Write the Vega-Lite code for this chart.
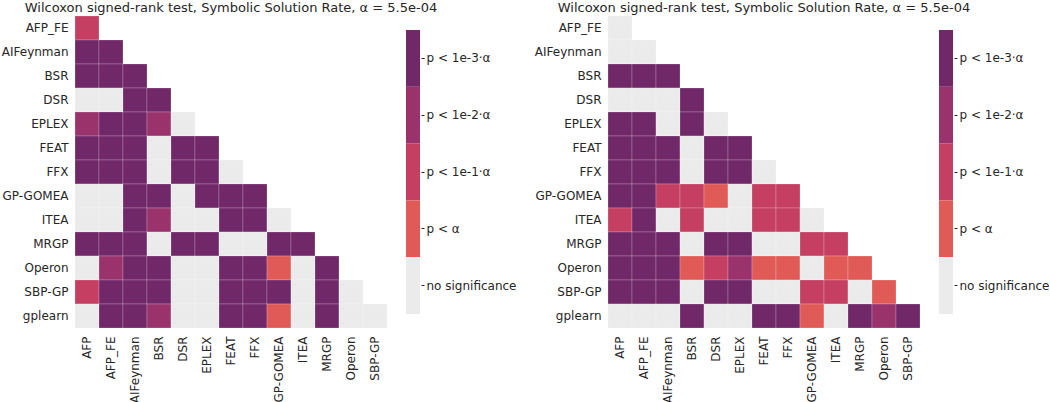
{
  "$schema": "https://vega.github.io/schema/vega-lite/v6.json",
  "padding": {"left": 1, "top": 1, "right": 0, "bottom": 0},
  "background": "#ffffff",
  "config": {
    "font": "DejaVu Sans",
    "view": {"stroke": null},
    "axis": {"labelFont": "DejaVu Sans", "labelFontSize": 12, "labelColor": "#262626", "grid": false}
  },
  "datasets": {
    "legend": [
      {"code": "3", "label": "p < 1e-3·α"},
      {"code": "2", "label": "p < 1e-2·α"},
      {"code": "1", "label": "p < 1e-1·α"},
      {"code": "0", "label": "p < α"},
      {"code": "n", "label": "no significance"}
    ],
    "left": [
      {"r": "AFP_FE", "c": "AFP", "s": "1"},
      {"r": "AIFeynman", "c": "AFP", "s": "3"},
      {"r": "AIFeynman", "c": "AFP_FE", "s": "3"},
      {"r": "BSR", "c": "AFP", "s": "3"},
      {"r": "BSR", "c": "AFP_FE", "s": "3"},
      {"r": "BSR", "c": "AIFeynman", "s": "3"},
      {"r": "DSR", "c": "AFP", "s": "n"},
      {"r": "DSR", "c": "AFP_FE", "s": "n"},
      {"r": "DSR", "c": "AIFeynman", "s": "3"},
      {"r": "DSR", "c": "BSR", "s": "3"},
      {"r": "EPLEX", "c": "AFP", "s": "2"},
      {"r": "EPLEX", "c": "AFP_FE", "s": "3"},
      {"r": "EPLEX", "c": "AIFeynman", "s": "3"},
      {"r": "EPLEX", "c": "BSR", "s": "2"},
      {"r": "EPLEX", "c": "DSR", "s": "n"},
      {"r": "FEAT", "c": "AFP", "s": "3"},
      {"r": "FEAT", "c": "AFP_FE", "s": "3"},
      {"r": "FEAT", "c": "AIFeynman", "s": "3"},
      {"r": "FEAT", "c": "BSR", "s": "n"},
      {"r": "FEAT", "c": "DSR", "s": "3"},
      {"r": "FEAT", "c": "EPLEX", "s": "3"},
      {"r": "FFX", "c": "AFP", "s": "3"},
      {"r": "FFX", "c": "AFP_FE", "s": "3"},
      {"r": "FFX", "c": "AIFeynman", "s": "3"},
      {"r": "FFX", "c": "BSR", "s": "n"},
      {"r": "FFX", "c": "DSR", "s": "3"},
      {"r": "FFX", "c": "EPLEX", "s": "3"},
      {"r": "FFX", "c": "FEAT", "s": "n"},
      {"r": "GP-GOMEA", "c": "AFP", "s": "n"},
      {"r": "GP-GOMEA", "c": "AFP_FE", "s": "n"},
      {"r": "GP-GOMEA", "c": "AIFeynman", "s": "3"},
      {"r": "GP-GOMEA", "c": "BSR", "s": "3"},
      {"r": "GP-GOMEA", "c": "DSR", "s": "n"},
      {"r": "GP-GOMEA", "c": "EPLEX", "s": "3"},
      {"r": "GP-GOMEA", "c": "FEAT", "s": "3"},
      {"r": "GP-GOMEA", "c": "FFX", "s": "3"},
      {"r": "ITEA", "c": "AFP", "s": "n"},
      {"r": "ITEA", "c": "AFP_FE", "s": "n"},
      {"r": "ITEA", "c": "AIFeynman", "s": "3"},
      {"r": "ITEA", "c": "BSR", "s": "2"},
      {"r": "ITEA", "c": "DSR", "s": "n"},
      {"r": "ITEA", "c": "EPLEX", "s": "n"},
      {"r": "ITEA", "c": "FEAT", "s": "3"},
      {"r": "ITEA", "c": "FFX", "s": "3"},
      {"r": "ITEA", "c": "GP-GOMEA", "s": "n"},
      {"r": "MRGP", "c": "AFP", "s": "3"},
      {"r": "MRGP", "c": "AFP_FE", "s": "3"},
      {"r": "MRGP", "c": "AIFeynman", "s": "3"},
      {"r": "MRGP", "c": "BSR", "s": "n"},
      {"r": "MRGP", "c": "DSR", "s": "3"},
      {"r": "MRGP", "c": "EPLEX", "s": "3"},
      {"r": "MRGP", "c": "FEAT", "s": "n"},
      {"r": "MRGP", "c": "FFX", "s": "n"},
      {"r": "MRGP", "c": "GP-GOMEA", "s": "3"},
      {"r": "MRGP", "c": "ITEA", "s": "3"},
      {"r": "Operon", "c": "AFP", "s": "n"},
      {"r": "Operon", "c": "AFP_FE", "s": "2"},
      {"r": "Operon", "c": "AIFeynman", "s": "3"},
      {"r": "Operon", "c": "BSR", "s": "3"},
      {"r": "Operon", "c": "DSR", "s": "n"},
      {"r": "Operon", "c": "EPLEX", "s": "n"},
      {"r": "Operon", "c": "FEAT", "s": "3"},
      {"r": "Operon", "c": "FFX", "s": "3"},
      {"r": "Operon", "c": "GP-GOMEA", "s": "0"},
      {"r": "Operon", "c": "ITEA", "s": "n"},
      {"r": "Operon", "c": "MRGP", "s": "3"},
      {"r": "SBP-GP", "c": "AFP", "s": "1"},
      {"r": "SBP-GP", "c": "AFP_FE", "s": "3"},
      {"r": "SBP-GP", "c": "AIFeynman", "s": "3"},
      {"r": "SBP-GP", "c": "BSR", "s": "3"},
      {"r": "SBP-GP", "c": "DSR", "s": "n"},
      {"r": "SBP-GP", "c": "EPLEX", "s": "n"},
      {"r": "SBP-GP", "c": "FEAT", "s": "3"},
      {"r": "SBP-GP", "c": "FFX", "s": "3"},
      {"r": "SBP-GP", "c": "GP-GOMEA", "s": "3"},
      {"r": "SBP-GP", "c": "ITEA", "s": "n"},
      {"r": "SBP-GP", "c": "MRGP", "s": "3"},
      {"r": "SBP-GP", "c": "Operon", "s": "n"},
      {"r": "gplearn", "c": "AFP", "s": "n"},
      {"r": "gplearn", "c": "AFP_FE", "s": "3"},
      {"r": "gplearn", "c": "AIFeynman", "s": "3"},
      {"r": "gplearn", "c": "BSR", "s": "2"},
      {"r": "gplearn", "c": "DSR", "s": "n"},
      {"r": "gplearn", "c": "EPLEX", "s": "n"},
      {"r": "gplearn", "c": "FEAT", "s": "3"},
      {"r": "gplearn", "c": "FFX", "s": "3"},
      {"r": "gplearn", "c": "GP-GOMEA", "s": "0"},
      {"r": "gplearn", "c": "ITEA", "s": "n"},
      {"r": "gplearn", "c": "MRGP", "s": "3"},
      {"r": "gplearn", "c": "Operon", "s": "n"},
      {"r": "gplearn", "c": "SBP-GP", "s": "n"}
    ],
    "right": [
      {"r": "AFP_FE", "c": "AFP", "s": "n"},
      {"r": "AIFeynman", "c": "AFP", "s": "n"},
      {"r": "AIFeynman", "c": "AFP_FE", "s": "n"},
      {"r": "BSR", "c": "AFP", "s": "3"},
      {"r": "BSR", "c": "AFP_FE", "s": "3"},
      {"r": "BSR", "c": "AIFeynman", "s": "3"},
      {"r": "DSR", "c": "AFP", "s": "n"},
      {"r": "DSR", "c": "AFP_FE", "s": "n"},
      {"r": "DSR", "c": "AIFeynman", "s": "n"},
      {"r": "DSR", "c": "BSR", "s": "3"},
      {"r": "EPLEX", "c": "AFP", "s": "3"},
      {"r": "EPLEX", "c": "AFP_FE", "s": "3"},
      {"r": "EPLEX", "c": "AIFeynman", "s": "n"},
      {"r": "EPLEX", "c": "BSR", "s": "3"},
      {"r": "EPLEX", "c": "DSR", "s": "n"},
      {"r": "FEAT", "c": "AFP", "s": "3"},
      {"r": "FEAT", "c": "AFP_FE", "s": "3"},
      {"r": "FEAT", "c": "AIFeynman", "s": "3"},
      {"r": "FEAT", "c": "BSR", "s": "n"},
      {"r": "FEAT", "c": "DSR", "s": "3"},
      {"r": "FEAT", "c": "EPLEX", "s": "3"},
      {"r": "FFX", "c": "AFP", "s": "3"},
      {"r": "FFX", "c": "AFP_FE", "s": "3"},
      {"r": "FFX", "c": "AIFeynman", "s": "3"},
      {"r": "FFX", "c": "BSR", "s": "n"},
      {"r": "FFX", "c": "DSR", "s": "3"},
      {"r": "FFX", "c": "EPLEX", "s": "3"},
      {"r": "FFX", "c": "FEAT", "s": "n"},
      {"r": "GP-GOMEA", "c": "AFP", "s": "3"},
      {"r": "GP-GOMEA", "c": "AFP_FE", "s": "3"},
      {"r": "GP-GOMEA", "c": "AIFeynman", "s": "1"},
      {"r": "GP-GOMEA", "c": "BSR", "s": "1"},
      {"r": "GP-GOMEA", "c": "DSR", "s": "0"},
      {"r": "GP-GOMEA", "c": "EPLEX", "s": "n"},
      {"r": "GP-GOMEA", "c": "FEAT", "s": "1"},
      {"r": "GP-GOMEA", "c": "FFX", "s": "1"},
      {"r": "ITEA", "c": "AFP", "s": "1"},
      {"r": "ITEA", "c": "AFP_FE", "s": "3"},
      {"r": "ITEA", "c": "AIFeynman", "s": "n"},
      {"r": "ITEA", "c": "BSR", "s": "1"},
      {"r": "ITEA", "c": "DSR", "s": "n"},
      {"r": "ITEA", "c": "EPLEX", "s": "n"},
      {"r": "ITEA", "c": "FEAT", "s": "1"},
      {"r": "ITEA", "c": "FFX", "s": "1"},
      {"r": "ITEA", "c": "GP-GOMEA", "s": "n"},
      {"r": "MRGP", "c": "AFP", "s": "3"},
      {"r": "MRGP", "c": "AFP_FE", "s": "3"},
      {"r": "MRGP", "c": "AIFeynman", "s": "3"},
      {"r": "MRGP", "c": "BSR", "s": "n"},
      {"r": "MRGP", "c": "DSR", "s": "3"},
      {"r": "MRGP", "c": "EPLEX", "s": "3"},
      {"r": "MRGP", "c": "FEAT", "s": "n"},
      {"r": "MRGP", "c": "FFX", "s": "n"},
      {"r": "MRGP", "c": "GP-GOMEA", "s": "1"},
      {"r": "MRGP", "c": "ITEA", "s": "1"},
      {"r": "Operon", "c": "AFP", "s": "3"},
      {"r": "Operon", "c": "AFP_FE", "s": "3"},
      {"r": "Operon", "c": "AIFeynman", "s": "3"},
      {"r": "Operon", "c": "BSR", "s": "0"},
      {"r": "Operon", "c": "DSR", "s": "1"},
      {"r": "Operon", "c": "EPLEX", "s": "2"},
      {"r": "Operon", "c": "FEAT", "s": "0"},
      {"r": "Operon", "c": "FFX", "s": "0"},
      {"r": "Operon", "c": "GP-GOMEA", "s": "n"},
      {"r": "Operon", "c": "ITEA", "s": "0"},
      {"r": "Operon", "c": "MRGP", "s": "0"},
      {"r": "SBP-GP", "c": "AFP", "s": "3"},
      {"r": "SBP-GP", "c": "AFP_FE", "s": "3"},
      {"r": "SBP-GP", "c": "AIFeynman", "s": "3"},
      {"r": "SBP-GP", "c": "BSR", "s": "n"},
      {"r": "SBP-GP", "c": "DSR", "s": "3"},
      {"r": "SBP-GP", "c": "EPLEX", "s": "3"},
      {"r": "SBP-GP", "c": "FEAT", "s": "n"},
      {"r": "SBP-GP", "c": "FFX", "s": "n"},
      {"r": "SBP-GP", "c": "GP-GOMEA", "s": "1"},
      {"r": "SBP-GP", "c": "ITEA", "s": "1"},
      {"r": "SBP-GP", "c": "MRGP", "s": "n"},
      {"r": "SBP-GP", "c": "Operon", "s": "0"},
      {"r": "gplearn", "c": "AFP", "s": "n"},
      {"r": "gplearn", "c": "AFP_FE", "s": "n"},
      {"r": "gplearn", "c": "AIFeynman", "s": "n"},
      {"r": "gplearn", "c": "BSR", "s": "3"},
      {"r": "gplearn", "c": "DSR", "s": "n"},
      {"r": "gplearn", "c": "EPLEX", "s": "n"},
      {"r": "gplearn", "c": "FEAT", "s": "3"},
      {"r": "gplearn", "c": "FFX", "s": "3"},
      {"r": "gplearn", "c": "GP-GOMEA", "s": "0"},
      {"r": "gplearn", "c": "ITEA", "s": "n"},
      {"r": "gplearn", "c": "MRGP", "s": "3"},
      {"r": "gplearn", "c": "Operon", "s": "2"},
      {"r": "gplearn", "c": "SBP-GP", "s": "3"}
    ]
  },
  "bounds": "flush",
  "spacing": 188,
  "hconcat": [
    {
      "width": 345,
      "height": 312,
      "title": {"text": "Wilcoxon signed-rank test, Symbolic Solution Rate, α =  5.5e-04", "fontSize": 13, "fontWeight": "normal", "color": "#262626", "font": "DejaVu Sans", "frame": "group", "anchor": "middle", "dx": -16.5, "offset": 1},
      "resolve": {"scale": {"x": "independent", "y": "independent"}},
      "layer": [
        {
          "data": {"name": "left"},
          "mark": {"type": "rect", "stroke": "#ffffff", "strokeWidth": 0.6, "strokeOpacity": 0.35},
          "encoding": {
            "x": {"field": "c", "type": "nominal", "scale": {"domain": ["AFP", "AFP_FE", "AIFeynman", "BSR", "DSR", "EPLEX", "FEAT", "FFX", "GP-GOMEA", "ITEA", "MRGP", "Operon", "SBP-GP"], "paddingInner": 0, "paddingOuter": 0.6875, "align": 0}, "axis": {"title": null, "orient": "bottom", "labelAngle": -90, "ticks": false, "domain": false, "labelPadding": 8}},
            "y": {"field": "r", "type": "nominal", "scale": {"domain": ["AFP_FE", "AIFeynman", "BSR", "DSR", "EPLEX", "FEAT", "FFX", "GP-GOMEA", "ITEA", "MRGP", "Operon", "SBP-GP", "gplearn"], "paddingInner": 0, "paddingOuter": 0}, "axis": {"title": null, "ticks": false, "domain": false, "labelPadding": 7}},
            "color": {"field": "s", "type": "nominal", "scale": {"domain": ["3", "2", "1", "0", "n"], "range": ["#702869", "#9a336c", "#c43f62", "#e05b57", "#ebebeb"]}, "legend": null}
          }
        },
        {
          "data": {"name": "legend"},
          "mark": {"type": "rect"},
          "encoding": {
            "x": {"datum": "bar", "type": "nominal", "scale": {"domain": ["bar"], "paddingInner": 0.9154, "paddingOuter": 1, "align": 1}, "axis": null},
            "y": {"field": "label", "type": "nominal", "scale": {"domain": ["p < 1e-3·α", "p < 1e-2·α", "p < 1e-1·α", "p < α", "no significance"], "paddingInner": 0, "paddingOuter": 0.2465}, "axis": {"title": null, "orient": "right", "domain": false, "tickSize": 3, "tickColor": "#262626", "offset": 1, "labelPadding": 2}},
            "color": {"field": "code", "type": "nominal", "legend": null}
          }
        }
      ]
    },
    {
      "width": 345,
      "height": 312,
      "title": {"text": "Wilcoxon signed-rank test, Symbolic Solution Rate, α =  5.5e-04", "fontSize": 13, "fontWeight": "normal", "color": "#262626", "font": "DejaVu Sans", "frame": "group", "anchor": "middle", "dx": -16.5, "offset": 1},
      "resolve": {"scale": {"x": "independent", "y": "independent"}},
      "layer": [
        {
          "data": {"name": "right"},
          "mark": {"type": "rect", "stroke": "#ffffff", "strokeWidth": 0.6, "strokeOpacity": 0.35},
          "encoding": {
            "x": {"field": "c", "type": "nominal", "scale": {"domain": ["AFP", "AFP_FE", "AIFeynman", "BSR", "DSR", "EPLEX", "FEAT", "FFX", "GP-GOMEA", "ITEA", "MRGP", "Operon", "SBP-GP"], "paddingInner": 0, "paddingOuter": 0.6875, "align": 0}, "axis": {"title": null, "orient": "bottom", "labelAngle": -90, "ticks": false, "domain": false, "labelPadding": 8}},
            "y": {"field": "r", "type": "nominal", "scale": {"domain": ["AFP_FE", "AIFeynman", "BSR", "DSR", "EPLEX", "FEAT", "FFX", "GP-GOMEA", "ITEA", "MRGP", "Operon", "SBP-GP", "gplearn"], "paddingInner": 0, "paddingOuter": 0}, "axis": {"title": null, "ticks": false, "domain": false, "labelPadding": 7}},
            "color": {"field": "s", "type": "nominal", "scale": {"domain": ["3", "2", "1", "0", "n"], "range": ["#702869", "#9a336c", "#c43f62", "#e05b57", "#ebebeb"]}, "legend": null}
          }
        },
        {
          "data": {"name": "legend"},
          "mark": {"type": "rect"},
          "encoding": {
            "x": {"datum": "bar", "type": "nominal", "scale": {"domain": ["bar"], "paddingInner": 0.9154, "paddingOuter": 1, "align": 1}, "axis": null},
            "y": {"field": "label", "type": "nominal", "scale": {"domain": ["p < 1e-3·α", "p < 1e-2·α", "p < 1e-1·α", "p < α", "no significance"], "paddingInner": 0, "paddingOuter": 0.2465}, "axis": {"title": null, "orient": "right", "domain": false, "tickSize": 3, "tickColor": "#262626", "offset": 1, "labelPadding": 2}},
            "color": {"field": "code", "type": "nominal", "legend": null}
          }
        }
      ]
    }
  ]
}
